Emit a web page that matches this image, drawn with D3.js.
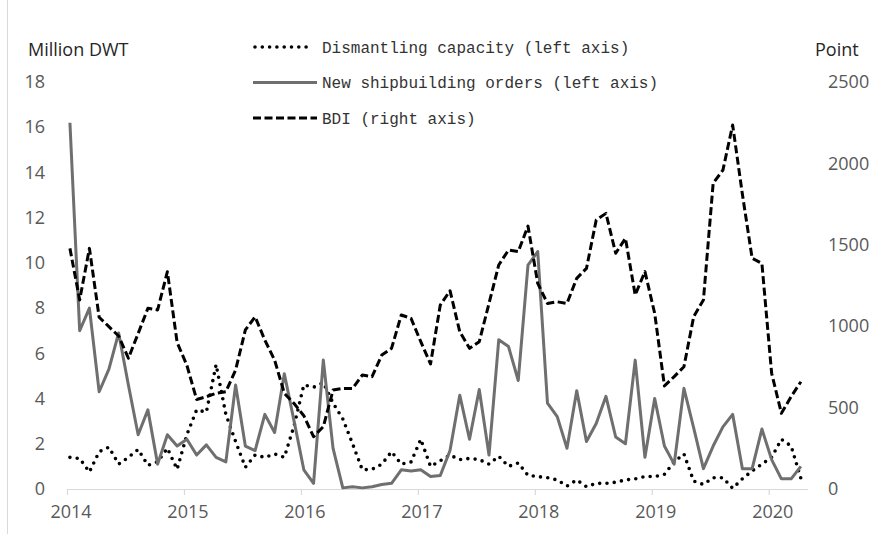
<!DOCTYPE html>
<html>
<head>
<meta charset="utf-8">
<script src="https://cdn.jsdelivr.net/npm/d3@7"></script>
<style>
  html, body { margin: 0; padding: 0; background: #fff; }
  svg { display: block; }
</style>
</head>
<body>
<svg id="chart" width="877" height="534"></svg>
<script>
// ---- Data (monthly, Jan 2014 – Apr 2020) ----
const years = ["2014", "2015", "2016", "2017", "2018", "2019", "2020"];
const leftTicks = [0, 2, 4, 6, 8, 10, 12, 14, 16, 18];
const rightTicks = [0, 500, 1000, 1500, 2000, 2500];
const seriesNames = [
  "Dismantling capacity (left axis)",
  "New shipbuilding orders (left axis)",
  "BDI (right axis)"
];

const dismantling = [
  1.4, 1.35, 0.75, 1.65, 1.85, 1.1, 1.4, 1.75, 1.05, 1.2, 1.8, 0.87,
  2.4, 3.5, 3.4, 5.5, 3.3, 2.1, 0.96, 1.5, 1.4, 1.55, 1.4, 2.8,
  4.6, 4.5, 4.7, 3.8, 3.1, 2.0, 0.85, 0.87, 1.1, 1.65, 1.1, 1.2,
  2.2, 1.0, 1.25, 1.5, 1.3, 1.35, 1.3, 1.1, 1.45, 1.0, 1.15, 0.6,
  0.55, 0.5, 0.4, 0.13, 0.4, 0.1, 0.25, 0.25, 0.3, 0.4, 0.45, 0.55,
  0.55, 0.65, 1.2, 1.55, 0.35, 0.2, 0.5, 0.5, 0.03, 0.45, 0.8, 1.1,
  1.4, 2.2, 1.9, 0.47
];

const newOrders = [
  16.2, 7.0, 8.0, 4.3, 5.3, 6.9, 4.6, 2.4, 3.5, 1.1, 2.4, 1.9,
  2.2, 1.5, 1.95, 1.4, 1.2, 4.6, 1.9, 1.7, 3.3, 2.5, 5.1, 3.0,
  0.85, 0.25, 5.7, 1.8, 0.05, 0.1, 0.05, 0.1, 0.2, 0.25, 0.85, 0.8,
  0.85, 0.55, 0.6, 1.7, 4.15, 2.2, 4.4, 1.5, 6.6, 6.3, 4.8, 9.9,
  10.5, 3.8, 3.2, 1.8, 4.35, 2.1, 2.9, 4.1, 2.3, 2.0, 5.7, 1.4,
  4.0, 1.9, 1.1, 4.45, 2.7, 0.9, 1.9, 2.75, 3.3, 0.9, 0.9, 2.65,
  1.3, 0.45, 0.45, 1.0
];

const bdi = [
  1478, 1161, 1478, 1055, 997, 940, 803, 955, 1110, 1100, 1335, 900,
  760, 550, 567, 588, 598, 731, 977, 1058, 915, 792, 588, 525,
  450, 321, 383, 608, 618, 618, 700, 690, 823, 864, 1069, 1048,
  905, 768, 1130, 1218, 966, 864, 905, 1140, 1376, 1468, 1458, 1615,
  1263, 1140, 1150, 1140, 1294, 1355, 1652, 1693, 1448, 1540, 1192, 1335,
  1079, 633, 690, 751, 1058, 1161, 1878, 1959, 2236, 1810, 1417, 1386,
  711, 465, 567, 659
];

// ---- Layout ----
const svg = d3.select("#chart");
svg.append("rect").attr("width", 877).attr("height", 534).attr("fill", "#fff");
svg.append("line").attr("x1", 7.5).attr("x2", 7.5).attr("y1", 0).attr("y2", 534)
  .attr("stroke", "#d9d9d9").attr("stroke-width", 1);

const x = d3.scaleLinear().domain([0, 76]).range([67, 807.7]);
const yL = d3.scaleLinear().domain([0, 18]).range([489, 82]);
const yR = d3.scaleLinear().domain([0, 2500]).range([489, 82]);
const xOf = (d, i) => x(i + 0.3);

const tickFont = "'Open Sans', 'Noto Sans', sans-serif";
const tickColor = "#595959";

// X axis
const xAxis = d3.axisBottom(x)
  .tickValues(years.map((_, k) => k * 12))
  .tickFormat((d) => years[d / 12])
  .tickSizeOuter(0).tickSizeInner(6).tickPadding(6);
const gx = svg.append("g").attr("transform", "translate(0,489)").call(xAxis);
gx.select(".domain").attr("stroke", "#d9d9d9").attr("stroke-width", 1.2);
gx.selectAll(".tick line").attr("stroke", "#d9d9d9").attr("stroke-width", 1.2);
gx.selectAll(".tick text").attr("fill", tickColor).attr("font-family", tickFont)
  .attr("font-size", 18).attr("dx", 3.5).attr("dy", "0.95em");

// Left axis
const gl = svg.append("g").attr("transform", "translate(45,0)")
  .call(d3.axisLeft(yL).tickValues(leftTicks).tickFormat(d3.format("d"))
    .tickSize(0).tickPadding(0));
gl.select(".domain").remove();
gl.selectAll(".tick text").attr("fill", tickColor).attr("font-family", tickFont)
  .attr("font-size", 18);

// Right axis
const gr = svg.append("g").attr("transform", "translate(828,0)")
  .call(d3.axisRight(yR).tickValues(rightTicks).tickFormat(d3.format("d"))
    .tickSize(0).tickPadding(0));
gr.select(".domain").remove();
gr.selectAll(".tick text").attr("fill", tickColor).attr("font-family", tickFont)
  .attr("font-size", 18);

// Axis titles
svg.append("text").attr("x", 28).attr("y", 56).text("Million DWT")
  .attr("font-family", tickFont).attr("font-size", 18).attr("fill", "#262626");
svg.append("text").attr("x", 815).attr("y", 56).text("Point")
  .attr("font-family", tickFont).attr("font-size", 18).attr("fill", "#262626");

// ---- Series ----
const styles = [
  { stroke: "#000", width: 3.6, dash: "0 7.3", cap: "round" },
  { stroke: "#6f6f6f", width: 3, dash: null, cap: "butt" },
  { stroke: "#000", width: 3, dash: "8 3.5", cap: "butt" }
];

const lineL = d3.line().x(xOf).y((d) => yL(d));
const lineR = d3.line().x(xOf).y((d) => yR(d));

const paths = [
  lineL(dismantling),
  lineL(newOrders),
  lineR(bdi)
];

paths.forEach((p, k) => {
  const s = styles[k];
  svg.append("path").attr("d", p).attr("fill", "none")
    .attr("stroke", s.stroke).attr("stroke-width", s.width)
    .attr("stroke-linecap", s.cap).attr("stroke-linejoin", "round")
    .attr("stroke-dasharray", s.dash);
});

// ---- Legend ----
const legendY = [47, 82.5, 118];
const lg = svg.append("g");
seriesNames.forEach((name, k) => {
  const s = styles[k];
  lg.append("line").attr("x1", k === 0 ? 255 : 253).attr("x2", k === 0 ? 311 : 317)
    .attr("y1", legendY[k]).attr("y2", legendY[k])
    .attr("stroke", s.stroke).attr("stroke-width", s.width)
    .attr("stroke-linecap", s.cap).attr("stroke-dasharray", s.dash);
  lg.append("text").attr("x", 322).attr("y", legendY[k] + 5.5).text(name)
    .attr("font-family", "'Liberation Mono', 'DejaVu Sans Mono', monospace")
    .attr("font-size", 16).attr("fill", "#333");
});
</script>
</body>
</html>
